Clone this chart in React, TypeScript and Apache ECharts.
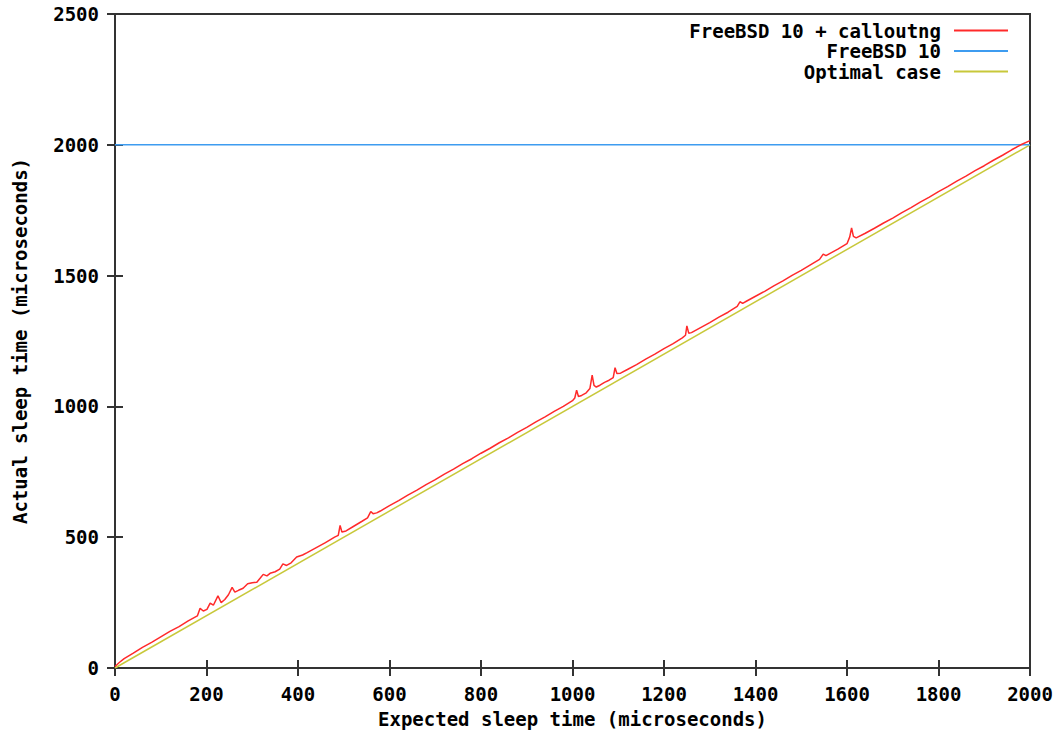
import React, { useEffect, useRef } from "react";
import * as echarts from "echarts";

const xTicks = [0, 200, 400, 600, 800, 1000, 1200, 1400, 1600, 1800, 2000];
const yTicks = [0, 500, 1000, 1500, 2000, 2500];

const seriesNames = ["FreeBSD 10 + calloutng", "FreeBSD 10", "Optimal case"];
const seriesColors = ["#ff2a2a", "#3e9cf0", "#c8c83a"];

// FreeBSD 10 + calloutng: [expected, actual]
const calloutngData: [number, number][] = [
  [0, 6], [10, 22], [20, 36], [40, 57], [60, 79], [80, 98], [100, 119], [120, 140],
  [140, 158], [160, 180], [180, 199], [186, 228], [193, 218], [201, 224], [208, 248],
  [215, 240], [225, 276], [232, 250], [240, 262], [248, 280], [256, 308], [262, 290],
  [270, 297], [280, 305], [290, 322], [300, 326], [310, 328], [318, 345], [324, 358],
  [332, 352], [339, 362], [350, 368], [360, 378], [367, 398], [375, 392], [385, 402],
  [397, 424], [410, 432], [420, 441], [440, 460], [460, 479], [480, 500], [488, 507],
  [492, 545], [496, 520], [505, 524], [520, 540], [540, 561], [552, 574], [559, 598],
  [564, 590], [572, 593], [580, 600], [600, 621], [620, 640], [640, 661], [660, 680],
  [680, 701], [700, 720], [720, 741], [740, 760], [760, 781], [780, 800], [800, 821],
  [820, 840], [840, 861], [860, 880], [880, 901], [900, 920], [920, 941], [940, 960],
  [960, 981], [980, 1000], [1000, 1022], [1005, 1032], [1009, 1062], [1013, 1038],
  [1020, 1042], [1030, 1052], [1038, 1068], [1043, 1120], [1047, 1080], [1052, 1074],
  [1060, 1081], [1070, 1092], [1080, 1100], [1089, 1110], [1093, 1148], [1097, 1126],
  [1105, 1127], [1120, 1141], [1140, 1160], [1160, 1181], [1180, 1200], [1200, 1221],
  [1220, 1240], [1240, 1262], [1247, 1272], [1250, 1308], [1254, 1280], [1260, 1282],
  [1280, 1301], [1300, 1320], [1320, 1341], [1340, 1360], [1360, 1382], [1366, 1400],
  [1372, 1394], [1380, 1402], [1400, 1421], [1420, 1440], [1440, 1461], [1460, 1480],
  [1480, 1501], [1500, 1520], [1520, 1541], [1540, 1562], [1548, 1582], [1554, 1576],
  [1560, 1582], [1580, 1601], [1600, 1622], [1606, 1648], [1610, 1682], [1614, 1650],
  [1620, 1644], [1640, 1662], [1660, 1681], [1680, 1701], [1700, 1720], [1720, 1741],
  [1740, 1760], [1760, 1781], [1780, 1800], [1800, 1821], [1820, 1840], [1840, 1861],
  [1860, 1880], [1880, 1901], [1900, 1920], [1920, 1941], [1940, 1960], [1960, 1981],
  [1980, 2000], [2000, 2016],
];

// FreeBSD 10: constant actual sleep time
const freebsdData: [number, number][] = [
  [0, 2000], [2000, 2000],
];

// Optimal case: actual == expected
const optimalData: [number, number][] = [
  [0, 0], [2000, 2000],
];

const FONT = "'DejaVu Sans Mono', 'Liberation Mono', monospace";

export default function App() {
  const ref = useRef<HTMLDivElement>(null);

  useEffect(() => {
    if (!ref.current) return;
    const chart = echarts.init(ref.current, undefined, { renderer: "svg" });

    const labelStyle = {
      fontFamily: FONT,
      fontWeight: "bold" as const,
      fontSize: 19,
      color: "#000",
    };
    const tick = {
      show: true,
      inside: true,
      length: 8,
      lineStyle: { color: "#333", width: 2 },
    };

    chart.setOption({
      animation: false,
      backgroundColor: "#fff",
      grid: {
        left: 115,
        right: 30,
        top: 14,
        bottom: 64,
        outerBoundsMode: "none",
        containLabel: false,
        show: true,
        borderColor: "#333",
        borderWidth: 2,
        backgroundColor: "transparent",
      },
      legend: {
        orient: "vertical",
        right: 52,
        top: 21,
        padding: 0,
        align: "right",
        icon: "rect",
        itemWidth: 54,
        itemHeight: 2,
        itemGap: 1.5,
        data: seriesNames,
        textStyle: {
          ...labelStyle,
          lineHeight: 18,
          padding: [0, 8, 0, 0],
        },
      },
      xAxis: [
        {
          type: "value",
          min: 0,
          max: 2000,
          interval: 200,
          name: "Expected sleep time (microseconds)",
          nameLocation: "middle",
          nameGap: 41,
          nameTextStyle: labelStyle,
          axisLine: { show: false },
          axisTick: tick,
          splitLine: { show: false },
          axisLabel: {
            ...labelStyle,
            margin: 16,
            formatter: (v: number) => (xTicks.includes(v) ? String(v) : ""),
          },
        },
        {
          type: "value",
          position: "top",
          min: 0,
          max: 2000,
          interval: 200,
          axisLine: { show: false },
          axisTick: tick,
          splitLine: { show: false },
          axisLabel: { show: false },
        },
      ],
      yAxis: [
        {
          type: "value",
          min: 0,
          max: 2500,
          interval: 500,
          name: "Actual sleep time (microseconds)",
          nameLocation: "middle",
          nameGap: 86,
          nameTextStyle: labelStyle,
          axisLine: { show: false },
          axisTick: tick,
          splitLine: { show: false },
          axisLabel: {
            ...labelStyle,
            margin: 16,
            formatter: (v: number) => (yTicks.includes(v) ? String(v) : ""),
          },
        },
        {
          type: "value",
          position: "right",
          min: 0,
          max: 2500,
          interval: 500,
          axisLine: { show: false },
          axisTick: tick,
          splitLine: { show: false },
          axisLabel: { show: false },
        },
      ],
      series: [
        {
          name: seriesNames[0],
          type: "line",
          data: calloutngData,
          showSymbol: false,
          symbol: "none",
          z: 3,
          lineStyle: { color: seriesColors[0], width: 1.5 },
          itemStyle: { color: seriesColors[0] },
        },
        {
          name: seriesNames[1],
          type: "line",
          data: freebsdData,
          showSymbol: false,
          symbol: "none",
          z: 2,
          lineStyle: { color: seriesColors[1], width: 1.5 },
          itemStyle: { color: seriesColors[1] },
        },
        {
          name: seriesNames[2],
          type: "line",
          data: optimalData,
          showSymbol: false,
          symbol: "none",
          z: 1,
          lineStyle: { color: seriesColors[2], width: 1.5 },
          itemStyle: { color: seriesColors[2] },
        },
      ],
    });

    return () => chart.dispose();
  }, []);

  return (
    <div
      ref={ref}
      style={{ position: "absolute", left: 0, top: 0, width: 1060, height: 732 }}
    />
  );
}
